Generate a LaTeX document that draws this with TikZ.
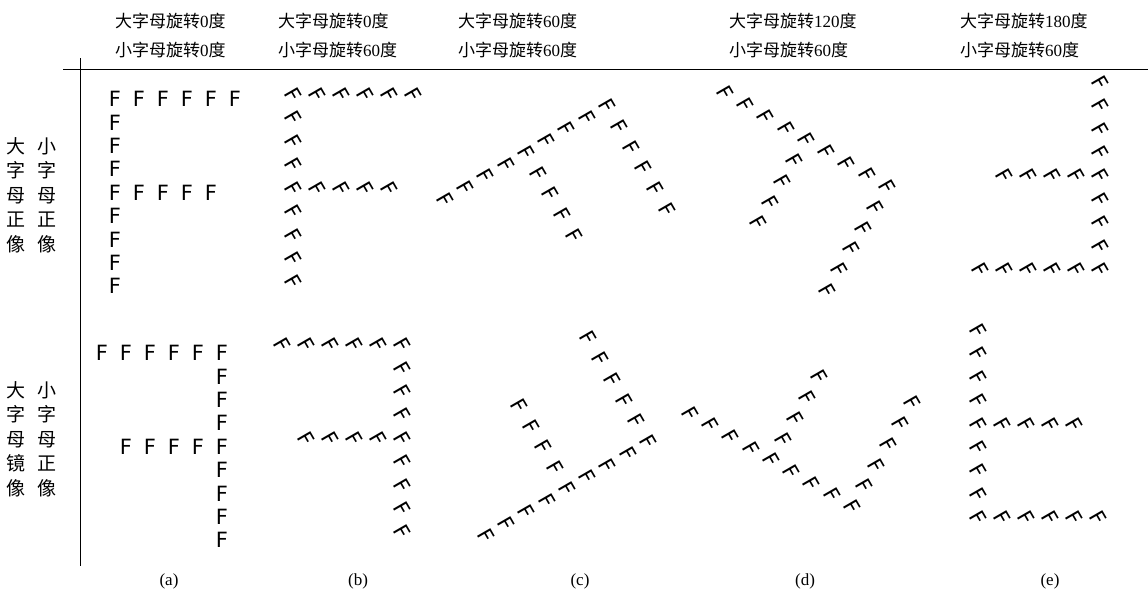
\documentclass[tikz,border=0pt]{standalone}
\usepackage{fontspec}
\setmainfont{Liberation Serif}
\newfontfamily\cjk{Noto Sans CJK SC}
\newfontfamily\fsans{DejaVu Sans}
\newcommand{\hz}[1]{{\cjk #1}}
% #1 name, #2 ox, #3 oy (screen px), #4 big rotation (cw deg), #5 mirror (1/-1), #6 small rotation
\newcommand{\placeF}[6]{%
  \foreach \i/\j in {0/0,0/1,0/2,0/3,0/4,0/5,0/6,0/7,0/8,1/0,2/0,3/0,4/0,5/0,1/4,2/4,3/4,4/4}{%
    \pgfmathsetmacro{\vx}{#5*\i*24}%
    \pgfmathsetmacro{\vy}{-\j*23.4}%
    \pgfmathsetmacro{\px}{#2+\vx*cos(#4)+\vy*sin(#4)}%
    \pgfmathsetmacro{\py}{#3+\vx*sin(#4)-\vy*cos(#4)}%
    \node[smallf,rotate=#6] (#1-\i-\j) at (\px,\py) {F};
  }%
}
\begin{document}
\begin{tikzpicture}[x=1pt,y=-1pt,
  smallf/.style={font=\fsans\fontsize{21}{21}\selectfont, inner sep=0pt},
  head/.style={anchor=west, inner sep=0pt, font=\fontsize{17}{17}\selectfont},
  vlab/.style={align=center, inner sep=0pt, font=\cjk\fontsize{19}{24.5}\selectfont},
  sublab/.style={inner sep=0pt, font=\fontsize{17}{17}\selectfont},
  axis/.style={line width=0.9pt, black}]
\useasboundingbox (0,0) rectangle (1148,597);
% frame lines
\coordinate (hl) at (63,69);
\coordinate (hr) at (1148,69);
\coordinate (vt) at (80,58);
\coordinate (vb) at (80,566);
\draw[axis] (hl) -- (hr);
\draw[axis] (vt) -- (vb);
% column headers
\node[head] (ha1) at (115,21) {\hz{大字母旋转}0\hz{度}};
\node[head] (ha2) at (115,50) {\hz{小字母旋转}0\hz{度}};
\node[head] (hb1) at (278,21) {\hz{大字母旋转}0\hz{度}};
\node[head] (hb2) at (278,50) {\hz{小字母旋转}60\hz{度}};
\node[head] (hc1) at (458,21) {\hz{大字母旋转}60\hz{度}};
\node[head] (hc2) at (458,50) {\hz{小字母旋转}60\hz{度}};
\node[head] (hd1) at (729,21) {\hz{大字母旋转}120\hz{度}};
\node[head] (hd2) at (729,50) {\hz{小字母旋转}60\hz{度}};
\node[head] (he1) at (960,21) {\hz{大字母旋转}180\hz{度}};
\node[head] (he2) at (960,50) {\hz{小字母旋转}60\hz{度}};
% row labels
\node[vlab] (r1a) at (16,195) {大\\字\\母\\正\\像};
\node[vlab] (r1b) at (47,195) {小\\字\\母\\正\\像};
\node[vlab] (r2a) at (16,439) {大\\字\\母\\镜\\像};
\node[vlab] (r2b) at (47,439) {小\\字\\母\\正\\像};
% panels
\placeF{at}{115}{99}{0}{1}{0}
\placeF{ab}{222}{353}{0}{-1}{0}
\placeF{bt}{293}{95}{0}{1}{-60}
\placeF{bb}{402}{345}{0}{-1}{-60}
\placeF{ct}{607}{106}{60}{1}{-60}
\placeF{cb}{648}{442}{60}{-1}{-60}
\placeF{dt}{887}{187}{120}{1}{-60}
\placeF{db}{852}{507}{120}{-1}{-60}
\placeF{et}{1100}{270}{180}{1}{-60}
\placeF{eb}{978}{518}{180}{-1}{-60}
% sub labels
\node[sublab] (sa) at (169,581) {(a)};
\node[sublab] (sb) at (358,581) {(b)};
\node[sublab] (sc) at (580,581) {(c)};
\node[sublab] (sd) at (805,581) {(d)};
\node[sublab] (se) at (1050,581) {(e)};
\end{tikzpicture}
\end{document}
